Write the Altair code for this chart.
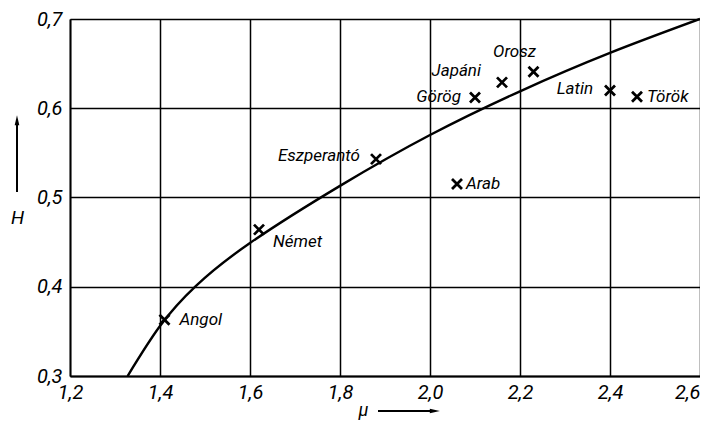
import altair as alt
import pandas as pd

# Curve H(mu)
curve_mu = [1.328, 1.40, 1.48, 1.60, 1.80, 2.00, 2.20, 2.40, 2.60]
curve_h = [0.300, 0.356, 0.401, 0.449, 0.513, 0.570, 0.619, 0.662, 0.700]

# Languages
names = ["Angol", "Német", "Eszperantó", "Arab", "Görög", "Japáni", "Orosz", "Latin", "Török"]
mu_vals = [1.41, 1.62, 1.88, 2.06, 2.10, 2.16, 2.23, 2.40, 2.46]
h_vals = [0.363, 0.464, 0.543, 0.515, 0.612, 0.629, 0.641, 0.620, 0.613]

x_ticks = [1.2, 1.4, 1.6, 1.8, 2.0, 2.2, 2.4, 2.6]
y_ticks = [0.3, 0.4, 0.5, 0.6, 0.7]

# label styling (offset from marker in pixels, alignment)
label_style = {
    "Angol": (15, 0, "left"),
    "Német": (14, 12, "left"),
    "Eszperantó": (-16, -3, "right"),
    "Arab": (9, 0, "left"),
    "Görög": (-14, -1, "right"),
    "Japáni": (-21, -11, "right"),
    "Orosz": (-19, -20, "center"),
    "Latin": (-17, -1, "right"),
    "Török": (10, 0, "left"),
}

FONT = "Roboto"
W, H = 630, 357

curve_df = pd.DataFrame({"mu": curve_mu, "H": curve_h})
pts_df = pd.DataFrame({"name": names, "mu": mu_vals, "H": h_vals})

lab = "replace(format(datum.value, '.1f'), '.', ',')"
xs = alt.Scale(domain=[1.2, 2.6], nice=False, zero=False)
ys = alt.Scale(domain=[0.3, 0.7], nice=False, zero=False)

x_axis = alt.Axis(values=x_ticks, labelExpr=lab, grid=True, gridColor="black", gridWidth=1.5,
                  gridOpacity=1, ticks=False, domainColor="black", domainWidth=1.8,
                  labelFont=FONT, labelFontSize=20, labelFontStyle="italic", labelColor="black",
                  labelPadding=6, labelFlush=False,
                  labelAlign={"expr": "datum.value > 2.55 ? 'right' : 'center'"},
                  title="μ", titleFont=FONT, titleFontSize=18,
                  titleFontStyle="italic", titleFontWeight="normal", titleX=293, titleY=34,
                  titleAlign="center", titleBaseline="middle")
y_axis = alt.Axis(values=y_ticks, labelExpr=lab, grid=True, gridColor="black", gridWidth=1.5,
                  gridOpacity=1, ticks=False, domainColor="black", domainWidth=1.8,
                  labelFont=FONT, labelFontSize=20, labelFontStyle="italic", labelColor="black",
                  labelPadding=8, labelFlush=False,
                  title="H", titleAngle=0, titleFont=FONT, titleFontSize=19,
                  titleFontStyle="italic", titleFontWeight="normal", titleX=-53, titleY=198,
                  titleAlign="center", titleBaseline="middle")

curve = alt.Chart(curve_df).mark_line(color="black", strokeWidth=2.4, interpolate="natural").encode(
    x=alt.X("mu:Q", scale=xs, axis=x_axis),
    y=alt.Y("H:Q", scale=ys, axis=y_axis),
)

points = alt.Chart(pts_df).mark_point(
    shape="M-1,-1L1,1M1,-1L-1,1", size=100, filled=False, color="black", strokeWidth=2.8, opacity=1
).encode(x=alt.X("mu:Q", scale=xs), y=alt.Y("H:Q", scale=ys))

layers = [curve, points]
for n in names:
    dx, dy, al = label_style[n]
    layers.append(
        alt.Chart(pts_df[pts_df["name"] == n]).mark_text(
            dx=dx, dy=dy, align=al, baseline="middle", font=FONT, fontSize=17,
            fontStyle="italic", color="black"
        ).encode(x=alt.X("mu:Q", scale=xs), y=alt.Y("H:Q", scale=ys), text="name:N")
    )

# axis arrows (decoration)
x_arrow = alt.Chart(pts_df).mark_rule(color="black", strokeWidth=1.6).encode(
    x=alt.value(308), x2=alt.value(364), y=alt.value(H + 35))
x_head = alt.Chart(pd.DataFrame({"a": [0]})).mark_point(
    shape="M-1.6,-0.6L1,0L-1.6,0.6Z", size=60, filled=True, color="black", opacity=1
).encode(x=alt.value(366), y=alt.value(H + 35))
y_arrow = alt.Chart(pts_df).mark_rule(color="black", strokeWidth=1.6).encode(
    x=alt.value(-53), y=alt.value(102), y2=alt.value(173))
y_head = alt.Chart(pd.DataFrame({"a": [0]})).mark_point(
    shape="M-0.6,1.6L0,-1L0.6,1.6Z", size=60, filled=True, color="black", opacity=1
).encode(x=alt.value(-53), y=alt.value(100))

layers += [x_arrow, x_head, y_arrow, y_head]

chart = alt.layer(*layers).properties(
    width=W, height=H, autosize="none",
    padding={"left": 62, "top": 11, "right": 0, "bottom": 44},
).configure_view(stroke="black", strokeWidth=1.5).configure(background="white")

chart.save("out.html", embed_options={"renderer": "svg", "actions": False})
